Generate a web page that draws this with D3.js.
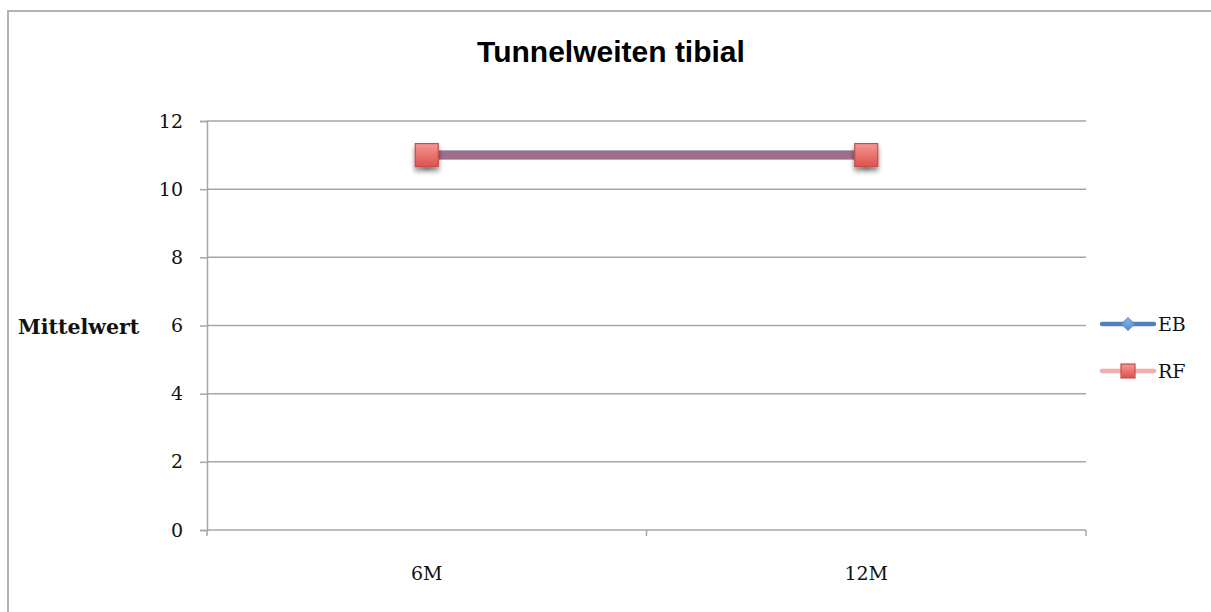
<!DOCTYPE html>
<html>
<head>
<meta charset="utf-8">
<script src="https://cdn.jsdelivr.net/npm/d3@7"></script>
<style>
  html, body { margin: 0; padding: 0; background: #fff; }
  svg { display: block; }
</style>
</head>
<body>
<svg id="chart" width="1211" height="612"></svg>
<script>
// Chart data
const categories = ["6M", "12M"];
const seriesNames = ["EB", "RF"];
const ebValues = [11, 11];
const rfValues = [11, 11];
const yTicks = [0, 2, 4, 6, 8, 10, 12];
const titleText = "Tunnelweiten tibial";
const yAxisTitle = "Mittelwert";

const series = [
  { name: seriesNames[0], values: ebValues, line: "#4F81BD", lineOpacity: 1, marker: "diamond" },
  { name: seriesNames[1], values: rfValues, line: "#EC5A5A", lineOpacity: 0.5, marker: "square" }
];

const svg = d3.select("#chart");
const serif = "'DejaVu Serif', serif";

const defs = svg.append("defs");
const sq = defs.append("linearGradient").attr("id", "sqFill").attr("x1", 0).attr("y1", 0).attr("x2", 0).attr("y2", 1);
sq.append("stop").attr("offset", "0%").attr("stop-color", "#F49896");
sq.append("stop").attr("offset", "100%").attr("stop-color", "#E0504C");
const dm = defs.append("linearGradient").attr("id", "dmFill").attr("x1", 0).attr("y1", 0).attr("x2", 0).attr("y2", 1);
dm.append("stop").attr("offset", "0%").attr("stop-color", "#8DB8E8");
dm.append("stop").attr("offset", "100%").attr("stop-color", "#4F8BCB");
const sh = defs.append("filter").attr("id", "shadow").attr("x", "-50%").attr("y", "-50%").attr("width", "200%").attr("height", "220%");
sh.append("feGaussianBlur").attr("in", "SourceAlpha").attr("stdDeviation", 2.5).attr("result", "b");
sh.append("feOffset").attr("in", "b").attr("dx", 0).attr("dy", 4).attr("result", "o");
sh.append("feComponentTransfer").attr("in", "o").attr("result", "s")
  .append("feFuncA").attr("type", "linear").attr("slope", 0.45);
const merge = sh.append("feMerge");
merge.append("feMergeNode").attr("in", "s");
merge.append("feMergeNode").attr("in", "SourceGraphic");

// Outer frame
svg.append("rect")
  .attr("x", 8).attr("y", 11).attr("width", 1220).attr("height", 620)
  .attr("fill", "none").attr("stroke", "#B3B3B3").attr("stroke-width", 2);

const plot = { left: 207, right: 1086, top: 121, bottom: 530 };

const x = d3.scaleBand().domain(categories).range([plot.left, plot.right]);
const y = d3.scaleLinear().domain([0, 12]).range([plot.bottom, plot.top]);

// Horizontal gridlines
svg.append("g")
  .selectAll("line")
  .data(yTicks.filter(t => t > 0))
  .join("line")
  .attr("x1", plot.left).attr("x2", plot.right)
  .attr("y1", d => y(d)).attr("y2", d => y(d))
  .attr("stroke", "#A6A6A6").attr("stroke-width", 1.5);

// Y axis
const yAxis = svg.append("g")
  .attr("transform", `translate(${plot.left},0)`)
  .call(d3.axisLeft(y).tickValues(yTicks).tickSize(7).tickPadding(17).tickFormat(d3.format("d")));
yAxis.select(".domain").attr("stroke", "#A6A6A6").attr("stroke-width", 1.5);
yAxis.selectAll(".tick line").attr("stroke", "#A6A6A6").attr("stroke-width", 1.5);
yAxis.selectAll(".tick text")
  .attr("font-family", serif).attr("font-size", 19).attr("fill", "#111");

// X axis
const xAxis = svg.append("g")
  .attr("transform", `translate(0,${plot.bottom})`)
  .call(d3.axisBottom(x).tickSize(0).tickPadding(37));
xAxis.select(".domain").remove();
xAxis.selectAll(".tick text")
  .attr("font-family", serif).attr("font-size", 19).attr("fill", "#111");
svg.append("line")
  .attr("x1", plot.left).attr("x2", plot.right)
  .attr("y1", plot.bottom).attr("y2", plot.bottom)
  .attr("stroke", "#A6A6A6").attr("stroke-width", 1.5);
// Category boundary ticks
const bounds = categories.map(c => x(c)).concat([x(categories[categories.length - 1]) + x.bandwidth()]);
svg.append("g").selectAll("line").data(bounds).join("line")
  .attr("x1", d => d).attr("x2", d => d)
  .attr("y1", plot.bottom).attr("y2", plot.bottom + 6)
  .attr("stroke", "#A6A6A6").attr("stroke-width", 1.5);

// Axis title
svg.append("text")
  .attr("x", 18).attr("y", y(6) + 8)
  .attr("font-family", serif).attr("font-weight", "bold").attr("font-size", 20.5)
  .attr("fill", "#111").text(yAxisTitle);

// Chart title
svg.append("text")
  .attr("x", 611).attr("y", 62).attr("text-anchor", "middle")
  .attr("font-family", "'Liberation Sans', Arial, sans-serif").attr("font-weight", "bold").attr("font-size", 30)
  .attr("fill", "#000").text(titleText);

const cx = c => x(c) + x.bandwidth() / 2;
const line = d3.line().x((d, i) => cx(categories[i])).y(d => y(d));

function drawMarker(g, type, px, py, size) {
  if (type === "square") {
    g.append("rect")
      .attr("x", px - size / 2).attr("y", py - size / 2)
      .attr("width", size).attr("height", size)
      .attr("fill", "url(#sqFill)").attr("stroke", "#C0504D").attr("stroke-width", 1.2);
  } else {
    const s = size / 2;
    g.append("path")
      .attr("d", `M${px},${py - s}L${px + s},${py}L${px},${py + s}L${px - s},${py}Z`)
      .attr("fill", "url(#dmFill)").attr("stroke", "#4F81BD").attr("stroke-width", 1);
  }
}

// Series lines and markers
series.forEach(s => {
  svg.append("path")
    .datum(s.values)
    .attr("d", line)
    .attr("fill", "none")
    .attr("stroke", s.line).attr("stroke-opacity", s.lineOpacity)
    .attr("stroke-width", 9);
});
series.forEach(s => {
  const g = svg.append("g").attr("filter", "url(#shadow)");
  s.values.forEach((v, i) => {
    drawMarker(g, s.marker, cx(categories[i]), y(v), s.marker === "square" ? 23 : 20);
  });
});

// Legend
const legend = svg.append("g");
series.forEach((s, i) => {
  const ly = 324 + i * 47;
  legend.append("line")
    .attr("x1", 1102).attr("x2", 1154).attr("y1", ly).attr("y2", ly)
    .attr("stroke", s.line).attr("stroke-opacity", s.lineOpacity)
    .attr("stroke-width", 4.5).attr("stroke-linecap", "round");
  drawMarker(legend, s.marker, 1128, ly, s.marker === "square" ? 14 : 13);
  legend.append("text")
    .attr("x", 1158).attr("y", ly + 7)
    .attr("font-family", serif).attr("font-size", 19).attr("fill", "#111")
    .text(s.name);
});
</script>
</body>
</html>
